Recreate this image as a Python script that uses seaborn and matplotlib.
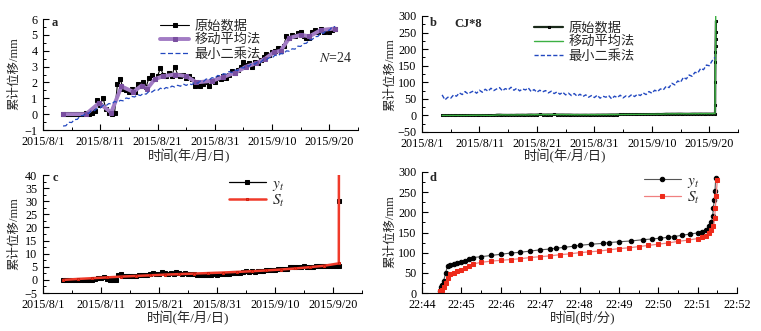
import numpy as np
import pandas as pd
import matplotlib
matplotlib.use('Agg')
import matplotlib.pyplot as plt
import seaborn as sns
from matplotlib.ticker import MultipleLocator

# ---------------- data ----------------
# panel a / b / c time grid: days after 2015/8/1 (one reading every half day)
t_start, t_step, n_obs = 3.5, 0.5, 96
raw_val = [0, 0, 0, 0, 0, 0, 0, 0,
           0.1, 0, 0.1, 0.2,
           0.9, 0.6, 1.0,
           0.3, 0.1, 0, 0.1,
           1.9, 2.2, 1.6,
           1.5, 1.4, 1.6, 1.4,
           1.9, 1.8, 2.0, 1.7,
           2.3, 2.5, 2.2, 2.4,
           2.9, 2.5, 2.4, 2.6,
           2.4, 3.0, 2.5, 2.4,
           2.5, 2.3, 2.4, 2.2,
           1.8, 2.0, 1.8, 1.9,
           2.0, 1.8, 2.1, 2.0,
           2.3, 2.2, 2.4, 2.3,
           2.5, 2.7, 2.6, 2.8,
           3.0, 3.3, 3.1, 3.2,
           3.0, 3.3, 3.2, 3.4,
           3.6, 3.8, 3.7, 3.9,
           4.0, 4.2, 4.0, 4.3,
           4.9, 4.8, 5.0, 4.9,
           5.1, 5.2, 4.9, 4.8,
           4.8, 5.2, 5.3, 5.2,
           5.4, 5.2, 5.3, 5.2,
           5.3, 5.4]
# final rapid failure readings (day, mm)
spike_day = [51.02, 51.04, 51.06, 51.08, 51.10, 51.12, 51.14, 51.16]
spike_val = [30, 100, 160, 190, 210, 230, 252, 285]

ma_day = [3.5, 7.5, 9.8, 11.9, 13.7, 15.8, 17.2, 18.2, 19.5, 21.0, 23.0, 25.0, 26.8,
          29.5, 31.5, 33.5, 35.5, 37.2, 38.8, 40.3, 41.5, 43.0, 45.0, 46.5, 48.5, 51.0]
ma_val = [0, 0, 0.7, 0.1, 1.75, 1.4, 1.8, 1.6, 2.2, 2.4, 2.5, 2.4, 2.0,
          2.1, 2.35, 2.6, 3.0, 3.2, 3.5, 3.9, 4.0, 4.8, 5.0, 4.9, 5.3, 5.4]
ma_spike_day = [51.1, 51.12]
ma_spike_val = [200, 300]

ls_a = [-0.75, -0.73, -0.51, -0.53, -0.34, -0.33, -0.10, -0.09,
        0.05, 0.05, 0.25, 0.22, 0.39, 0.39, 0.56, 0.53,
        0.67, 0.63, 0.80, 0.74, 0.87, 0.84, 1.02, 0.98,
        1.12, 1.08, 1.24, 1.17, 1.30, 1.26, 1.43, 1.39,
        1.52, 1.48, 1.64, 1.56, 1.68, 1.62, 1.77, 1.71,
        1.82, 1.76, 1.90, 1.81, 1.92, 1.86, 2.01, 1.95,
        2.08, 2.05, 2.22, 2.16, 2.30, 2.26, 2.44, 2.41,
        2.55, 2.52, 2.69, 2.62, 2.78, 2.75, 2.94, 2.91,
        3.06, 3.03, 3.21, 3.15, 3.30, 3.27, 3.45, 3.42,
        3.56, 3.54, 3.72, 3.67, 3.82, 3.80, 3.99, 3.97,
        4.12, 4.10, 4.29, 4.27, 4.45, 4.47, 4.69, 4.70,
        4.89, 4.90, 5.11, 5.10, 5.28, 5.29, 5.51, 5.52]

ls_b = [62, 47, 55, 52, 62, 58, 68, 63, 72, 65, 70, 74, 67, 76, 70, 79,
        73, 82, 75, 80, 84, 74, 81, 77, 85, 76, 82, 74, 80, 77, 83, 72,
        78, 70, 76, 71, 75, 68, 73, 66, 71, 64, 70, 62, 67, 60, 66, 58,
        64, 57, 62, 55, 60, 54, 61, 52, 58, 55, 60, 50, 58, 54, 61, 53,
        59, 56, 63, 57, 64, 60, 68, 63, 72, 67, 76, 72, 80, 77, 88, 84,
        97, 92, 104, 100, 115, 110, 122, 118, 130, 128, 142, 138, 152, 150, 165, 175]

st_day = [3.5, 6.0, 8.5, 11.0, 13.5, 16.0, 18.5, 21.0, 23.5, 26.0, 28.5, 31.0,
          33.5, 36.0, 38.5, 41.0, 43.5, 46.0, 48.5, 51.0, 51.02]
st_val = [0.0, 0.35, 0.65, 0.95, 1.25, 1.5, 1.75, 2.0, 2.2, 2.4, 2.6, 2.8,
          3.05, 3.3, 3.6, 3.95, 4.35, 4.85, 5.4, 6.3, 45]

date_ticks = [0, 10, 20, 30, 40, 50]
date_labels = ['2015/8/1', '2015/8/11', '2015/8/21', '2015/8/31', '2015/9/10', '2015/9/20']

# panel d: minutes after 22:44
yt_min = [0.45, 0.47, 0.50, 0.55, 0.60, 0.65, 0.70, 0.80, 0.90, 1.00, 1.10, 1.20, 1.30,
          1.50, 1.75, 2.00, 2.25, 2.50, 2.75, 3.00, 3.25, 3.40, 3.60, 3.85, 4.00, 4.30,
          4.60, 4.75, 5.00, 5.30, 5.60, 5.85, 6.05, 6.25, 6.40, 6.60, 6.80, 7.00, 7.10,
          7.20, 7.30, 7.35, 7.38, 7.40, 7.42, 7.44, 7.46]
yt_val = [5, 15, 20, 30, 50, 68, 70, 72, 75, 78, 80, 84, 88,
          90, 93, 96, 99, 101, 104, 107, 109, 111, 113, 116, 118, 121,
          123, 125, 127, 129, 132, 134, 136, 138, 140, 143, 146, 149, 152,
          156, 165, 175, 190, 210, 230, 252, 285]
st_min = [0.45, 0.50, 0.55, 0.60, 0.65, 0.70, 0.80, 0.90, 1.00, 1.10, 1.20, 1.30,
          1.50, 1.75, 2.00, 2.25, 2.50, 2.75, 3.00, 3.25, 3.50, 3.75, 4.00, 4.25,
          4.50, 4.75, 5.00, 5.25, 5.50, 5.75, 6.00, 6.25, 6.50, 6.75, 7.00, 7.10,
          7.20, 7.30, 7.35, 7.40, 7.43, 7.45, 7.47, 7.50]
st_val_d = [5, 8, 15, 25, 38, 47, 50, 54, 58, 63, 67, 72,
            76, 79, 81, 83, 85, 88, 90, 92, 95, 97, 100, 102,
            104, 107, 110, 112, 115, 118, 121, 124, 128, 131, 135, 138,
            142, 148, 155, 165, 185, 210, 240, 280]
time_ticks = [0, 1, 2, 3, 4, 5, 6, 7, 8]
time_labels = ['22:44', '22:45', '22:46', '22:47', '22:48', '22:49', '22:50', '22:51', '22:52']

# ---------------- style ----------------
sns.set_theme(style='ticks')
plt.rcParams['font.family'] = ['Liberation Serif', 'Noto Sans CJK SC', 'DejaVu Sans']
plt.rcParams['mathtext.fontset'] = 'stix'

W, H = 761, 331
fig = plt.figure(figsize=(W / 100, H / 100), dpi=100)
fig.patch.set_facecolor('white')


def px_axes(l, t, r, b):
    return fig.add_axes([l / W, 1 - b / H, (r - l) / W, (b - t) / H])


def style_axes(ax):
    for s in ['top', 'right']:
        ax.spines[s].set_visible(False)
    for s in ['left', 'bottom']:
        ax.spines[s].set_color('black')
        ax.spines[s].set_linewidth(0.8)
    ax.tick_params(which='major', direction='in', length=4, width=0.8, labelsize=8.7,
                   colors='black')
    ax.tick_params(axis='x', which='major', pad=4.5)
    ax.tick_params(axis='y', which='major', pad=4)
    ax.tick_params(which='minor', direction='in', length=2, width=0.7, colors='black')
    ax.set_facecolor('white')
    ax.grid(False)
    ax.set_xlabel('')
    ax.set_ylabel('')


t_obs = t_start + t_step * np.arange(n_obs)
df_raw = pd.DataFrame({'t': t_obs, 'v': raw_val})
df_raw_full = pd.DataFrame({'t': list(t_obs) + spike_day, 'v': list(raw_val) + spike_val})
df_ma = pd.DataFrame({'t': ma_day, 'v': ma_val})
df_ma_full = pd.DataFrame({'t': ma_day + ma_spike_day, 'v': ma_val + ma_spike_val})
df_lsa = pd.DataFrame({'t': t_obs, 'v': ls_a})
df_lsb = pd.DataFrame({'t': t_obs, 'v': ls_b})
df_st = pd.DataFrame({'t': st_day, 'v': st_val})
df_yt = pd.DataFrame({'t': yt_min, 'v': yt_val})
df_std = pd.DataFrame({'t': st_min, 'v': st_val_d})

kw = dict(x='t', y='v', estimator=None, sort=False)


def leg(ax, x, y, fs=9.5, hl=2.2, ls=0.12):
    ax.legend(frameon=False, fontsize=fs, handlelength=hl, handletextpad=0.4,
              labelspacing=ls, borderpad=0, borderaxespad=0, loc='upper left',
              bbox_to_anchor=(x / W, 1 - y / H), bbox_transform=fig.transFigure)


# ---- panel a ----
ax = px_axes(43, 19, 358, 130)
sns.lineplot(data=df_raw, ax=ax, color='black', lw=0.8, marker='s', ms=2.6, mec='black',
             label='原始数据', **kw)
sns.lineplot(data=df_ma, ax=ax, color='#a27cc4', lw=2.8, marker='s', ms=2.2, mec='#7a4fa0',
             mfc='#7a4fa0', label='移动平均法', **kw)
sns.lineplot(data=df_lsa, ax=ax, color='#2248c0', lw=0.9, ls=(0, (4, 2)),
             label='最小二乘法', **kw)
ax.set_xlim(0, 55)
ax.set_ylim(-1, 6)
ax.xaxis.set_minor_locator(MultipleLocator(5))
ax.set_xticks(date_ticks, date_labels)
ax.yaxis.set_major_locator(MultipleLocator(1))
ax.yaxis.set_minor_locator(MultipleLocator(0.5))
style_axes(ax)
leg(ax, 160, 20)
fig.text(55 / W, 1 - 23 / H, 'a', fontsize=9, fontweight='bold', va='center', ha='center')
fig.text(319 / W, 1 - 58 / H, '$N$=24', fontsize=10, va='center', ha='left')

# ---- panel b ----
ax = px_axes(422, 16, 738, 132)
sns.lineplot(data=df_raw_full, ax=ax, color='#1a2a1a', lw=1.6, marker='s', ms=2.0,
             mec='black', label='原始数据', **kw)
sns.lineplot(data=df_ma_full, ax=ax, color='#3cb043', lw=1.0, label='移动平均法', **kw)
sns.lineplot(data=df_lsb, ax=ax, color='#2248c0', lw=1.0, ls=(0, (3, 1.5)),
             label='最小二乘法', **kw)
ax.set_xlim(0, 55)
ax.set_ylim(-50, 300)
ax.xaxis.set_minor_locator(MultipleLocator(5))
ax.set_xticks(date_ticks, date_labels)
ax.yaxis.set_major_locator(MultipleLocator(50))
ax.yaxis.set_minor_locator(MultipleLocator(25))
style_axes(ax)
leg(ax, 534, 22)
fig.text(433 / W, 1 - 23 / H, 'b', fontsize=9, fontweight='bold', va='center', ha='center')
fig.text(454 / W, 1 - 24 / H, 'CJ*8', fontsize=9, fontweight='bold', va='center', ha='left')

# ---- panel c ----
ax = px_axes(43, 175, 362, 293)
sns.lineplot(data=df_raw_full, ax=ax, color='black', lw=0.9, marker='s', ms=2.4,
             mec='black', label='$y_t$', **kw)
sns.lineplot(data=df_st, ax=ax, color='#f03a2a', lw=1.8, marker='s', ms=2.0,
             mec='#d02010', label='$S_t$', **kw)
ax.set_xlim(0, 55)
ax.set_ylim(-5, 40)
ax.xaxis.set_minor_locator(MultipleLocator(5))
ax.set_xticks(date_ticks, date_labels)
ax.yaxis.set_major_locator(MultipleLocator(5))
ax.yaxis.set_minor_locator(MultipleLocator(2.5))
style_axes(ax)
leg(ax, 229, 177, fs=11, hl=2.4, ls=0.0)
fig.text(55 / W, 1 - 178 / H, 'c', fontsize=9, fontweight='bold', va='center', ha='center')

# ---- panel d ----
ax = px_axes(422, 172, 737, 293)
sns.lineplot(data=df_yt, ax=ax, color='#555555', lw=0.8, marker='o', ms=3.2, mfc='black',
             mec='black', label='$y_t$', **kw)
sns.lineplot(data=df_std, ax=ax, color='#f08080', lw=0.9, marker='s', ms=2.8, mfc='#ee2a1a',
             mec='#ee2a1a', label='$S_t$', **kw)
ax.set_xlim(0, 8)
ax.set_ylim(0, 300)
ax.set_xticks(time_ticks, time_labels)
ax.xaxis.set_minor_locator(MultipleLocator(0.5))
ax.yaxis.set_major_locator(MultipleLocator(50))
ax.yaxis.set_minor_locator(MultipleLocator(25))
style_axes(ax)
leg(ax, 644, 174, fs=11, hl=2.4, ls=0.0)
fig.text(433 / W, 1 - 178 / H, 'd', fontsize=9, fontweight='bold', va='center', ha='center')

# ---- axis titles ----
for (x, y) in [(14, 74), (390, 75), (14, 234), (390, 232)]:
    fig.text(x / W, 1 - y / H, '累计位移/mm', rotation=90, fontsize=9, va='center', ha='center')
for (x, y, s) in [(189, 156, '时间(年/月/日)'), (565, 156, '时间(年/月/日)'),
                  (188, 318, '时间(年/月/日)'), (583, 318, '时间(时/分)')]:
    fig.text(x / W, 1 - y / H, s, fontsize=9.5, va='center', ha='center')

fig.savefig('out.png', dpi=100, facecolor='white')
